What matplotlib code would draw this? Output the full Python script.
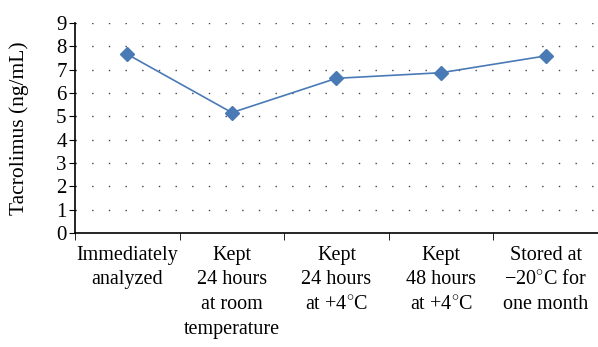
import matplotlib.pyplot as plt
import numpy as np

# 資料
categories = ["Immediately\nanalyzed",
              "Kept\n24 hours\nat room\ntemperature",
              "Kept\n24 hours\nat +4$^{\\circ}$C",
              "Kept\n48 hours\nat +4$^{\\circ}$C",
              "Stored at\n\u221220$^{\\circ}$C for\none month"]
values = [7.66, 5.16, 6.63, 6.87, 7.59]
y_ticks = list(range(0, 10))

plt.rcParams['font.family'] = ['Liberation Serif', 'DejaVu Serif']
plt.rcParams['mathtext.fontset'] = 'custom'
plt.rcParams['mathtext.rm'] = 'Liberation Serif'

fig = plt.figure(figsize=(5.98, 3.47), dpi=100)
ax = fig.add_axes([0.1254, 0.3285, 0.8746, 0.6052])

x = np.arange(len(categories))
ax.plot(x, values, color='#4a7ab5', linewidth=1.2,
        marker='D', markersize=7, markerfacecolor='#4a7ab5',
        markeredgecolor='#4a7ab5')

ax.set_xlim(-0.5, len(categories) - 0.5)
ax.set_ylim(0, 9)
ax.set_yticks(y_ticks)

# 格線
for y in y_ticks[1:]:
    ax.axhline(y, color='#444444', linewidth=1.0, linestyle=(0, (1, 11)), zorder=0)

ax.set_xticks(x)
ax.set_xticklabels(categories, fontsize=14.5, linespacing=1.42, va='top')
ax.set_xticks(np.arange(len(categories) + 1) - 0.5, minor=True)
ax.tick_params(axis='x', which='major', length=0, pad=9)
ax.tick_params(axis='x', which='minor', length=5, direction='out')
ax.tick_params(axis='y', length=4, direction='out', labelsize=15, pad=2)

for s in ['top', 'right']:
    ax.spines[s].set_visible(False)
ax.spines['left'].set_linewidth(1.2)
ax.spines['bottom'].set_linewidth(1.2)

ax.set_ylabel('Tacrolimus (ng/mL)', fontsize=15.5)
ax.yaxis.set_label_coords(-0.088, 0.5)

fig.savefig('out.png', dpi=100)
